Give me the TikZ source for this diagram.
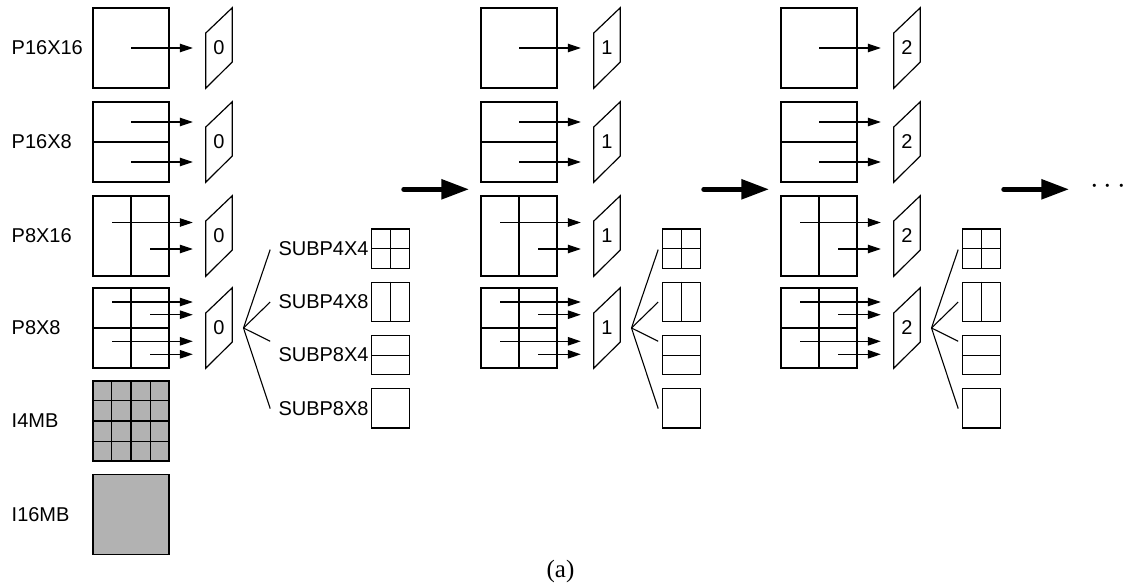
\documentclass[tikz,border=0pt]{standalone}
\usepackage{fontspec}
\setmainfont{Liberation Sans}
\newfontfamily\captionserif{Liberation Serif}
\usetikzlibrary{arrows.meta,calc}

\begin{document}
\begin{tikzpicture}[x=1pt,y=-1pt,
  every node/.style={font=\fontsize{20}{24}\selectfont},
  blk/.style={draw,line width=1.2pt,inner sep=0pt,minimum width=76pt,minimum height=80pt},
  sub/.style={draw,line width=1.2pt,inner sep=0pt,minimum width=38pt,minimum height=39.5pt},
  frame/.style={inner sep=0pt,minimum width=26pt,minimum height=80pt},
  plane/.style={line width=1.2pt,line join=miter},
  split/.style={line width=1.1pt},
  mv/.style={line width=1.1pt,-{Triangle[length=13pt,width=8.5pt]}},
  fan/.style={line width=1.1pt},
  nextstep/.style={line width=5.5pt,line cap=round,-{Triangle[length=28pt,width=19pt]}},
  rowlabel/.style={anchor=west,inner sep=0pt},
  sublabel/.style={anchor=east,inner sep=0pt},
]
\useasboundingbox (0,0) rectangle (1124,586);

% three reference frames, each with the four inter partitions
\foreach \c/\dx/\sx in {0/0/390.85,1/388/681.7,2/688/981.35}{
  \foreach \r/\cy in {1/48,2/142,3/236,4/328}{
    \node[blk] (b\c\r) at (131+\dx,\cy) {};
    \node[frame] (p\c\r) at (219+\dx,\cy) {\c};
    \draw[plane] (p\c\r.south west) -- ($(p\c\r.west)+(0,-15)$)
      -- (p\c\r.north east) -- ($(p\c\r.east)+(0,14)$) -- cycle;
  }
  % partition lines
  \draw[split] (b\c2.west) -- (b\c2.east);
  \draw[split] (b\c3.north) -- (b\c3.south);
  \draw[split] (b\c4.west) -- (b\c4.east);
  \draw[split] (b\c4.north) -- (b\c4.south);
  % motion vectors pointing to the reference frame
  \draw[mv] (b\c1.center) -- ($(p\c1.west)+(-13,0)$);
  \draw[mv] ($(b\c2.center)+(0,-20)$) -- ($(p\c2.west)+(-13,-20)$);
  \draw[mv] ($(b\c2.center)+(0,20)$) -- ($(p\c2.west)+(-13,20)$);
  \draw[mv] ($(b\c3.center)+(-19,-13.5)$) -- ($(p\c3.west)+(-13,-13.5)$);
  \draw[mv] ($(b\c3.center)+(19,13)$) -- ($(p\c3.west)+(-13,13)$);
  \draw[mv] ($(b\c4.center)+(-19,-26)$) -- ($(p\c4.west)+(-13,-26)$);
  \draw[mv] ($(b\c4.center)+(19,-13.3)$) -- ($(p\c4.west)+(-13,-13.3)$);
  \draw[mv] ($(b\c4.center)+(-19,13.3)$) -- ($(p\c4.west)+(-13,13.3)$);
  \draw[mv] ($(b\c4.center)+(19,26.3)$) -- ($(p\c4.west)+(-13,26.3)$);
  % sub-partitions of the 8x8 block
  \foreach \k/\ky in {1/248.7,2/301.9,3/355.1,4/408.3}{
    \node[sub] (s\c\k) at (\sx,\ky) {};
  }
  \draw[split] (s\c1.west) -- (s\c1.east);
  \draw[split] (s\c1.north) -- (s\c1.south);
  \draw[split] (s\c2.north) -- (s\c2.south);
  \draw[split] (s\c3.west) -- (s\c3.east);
  \coordinate (f\c) at ($(p\c4.east)+(11.3,0)$);
  \coordinate (e\c1) at ($(f\c)+(26.7,-78.4)$);
  \coordinate (e\c2) at ($(f\c)+(26.7,-26)$);
  \coordinate (e\c3) at ($(f\c)+(26.7,13.3)$);
  \coordinate (e\c4) at ($(f\c)+(26.7,80.6)$);
  \foreach \k in {1,2,3,4}{
    \draw[fan] (f\c) -- (e\c\k);
  }
}

% partition names
\node[rowlabel] (n1) at (11.5,48) {P16X16};
\node[rowlabel] (n2) at (11.5,142) {P16X8};
\node[rowlabel] (n3) at (11.5,236) {P8X16};
\node[rowlabel] (n4) at (11.5,328) {P8X8};
\node[rowlabel] (n5) at (11.5,421) {I4MB};
\node[rowlabel] (n6) at (11.5,514.5) {I16MB};

\node[sublabel] (m1) at ($(s01.west)+(-2.5,0)$) {SUBP4X4};
\node[sublabel] (m2) at ($(s02.west)+(-2.5,0)$) {SUBP4X8};
\node[sublabel] (m3) at ($(s03.west)+(-2.5,0)$) {SUBP8X4};
\node[sublabel] (m4) at ($(s04.west)+(-2.5,0)$) {SUBP8X8};

% intra blocks
\node[blk,fill=black!30] (i4) at (131,421) {};
\foreach \i in {1,2,3}{
  \draw[split] ($(i4.north west)!\i/4!(i4.north east)$) -- ($(i4.south west)!\i/4!(i4.south east)$);
  \draw[split] ($(i4.north west)!\i/4!(i4.south west)$) -- ($(i4.north east)!\i/4!(i4.south east)$);
}
\node[blk,fill=black!30] (i16) at (131,514.5) {};

% progression between reference frames
\coordinate (g1a) at (404,189.3);
\coordinate (g1b) at (469.3,189.3);
\coordinate (g2a) at (704,189.3);
\coordinate (g2b) at (769.3,189.3);
\coordinate (g3a) at (1004,189.3);
\coordinate (g3b) at (1069.3,189.3);
\draw[nextstep] (g1a) -- (g1b);
\draw[nextstep] (g2a) -- (g2b);
\draw[nextstep] (g3a) -- (g3b);
\node[font=\normalsize,scale=3.08,anchor=base,inner sep=0pt] (more) at (1108,193.4) {$\cdots$};

\node[font=\captionserif\fontsize{25}{28}\selectfont] (cap) at (560.5,571) {(a)};
\end{tikzpicture}
\end{document}
